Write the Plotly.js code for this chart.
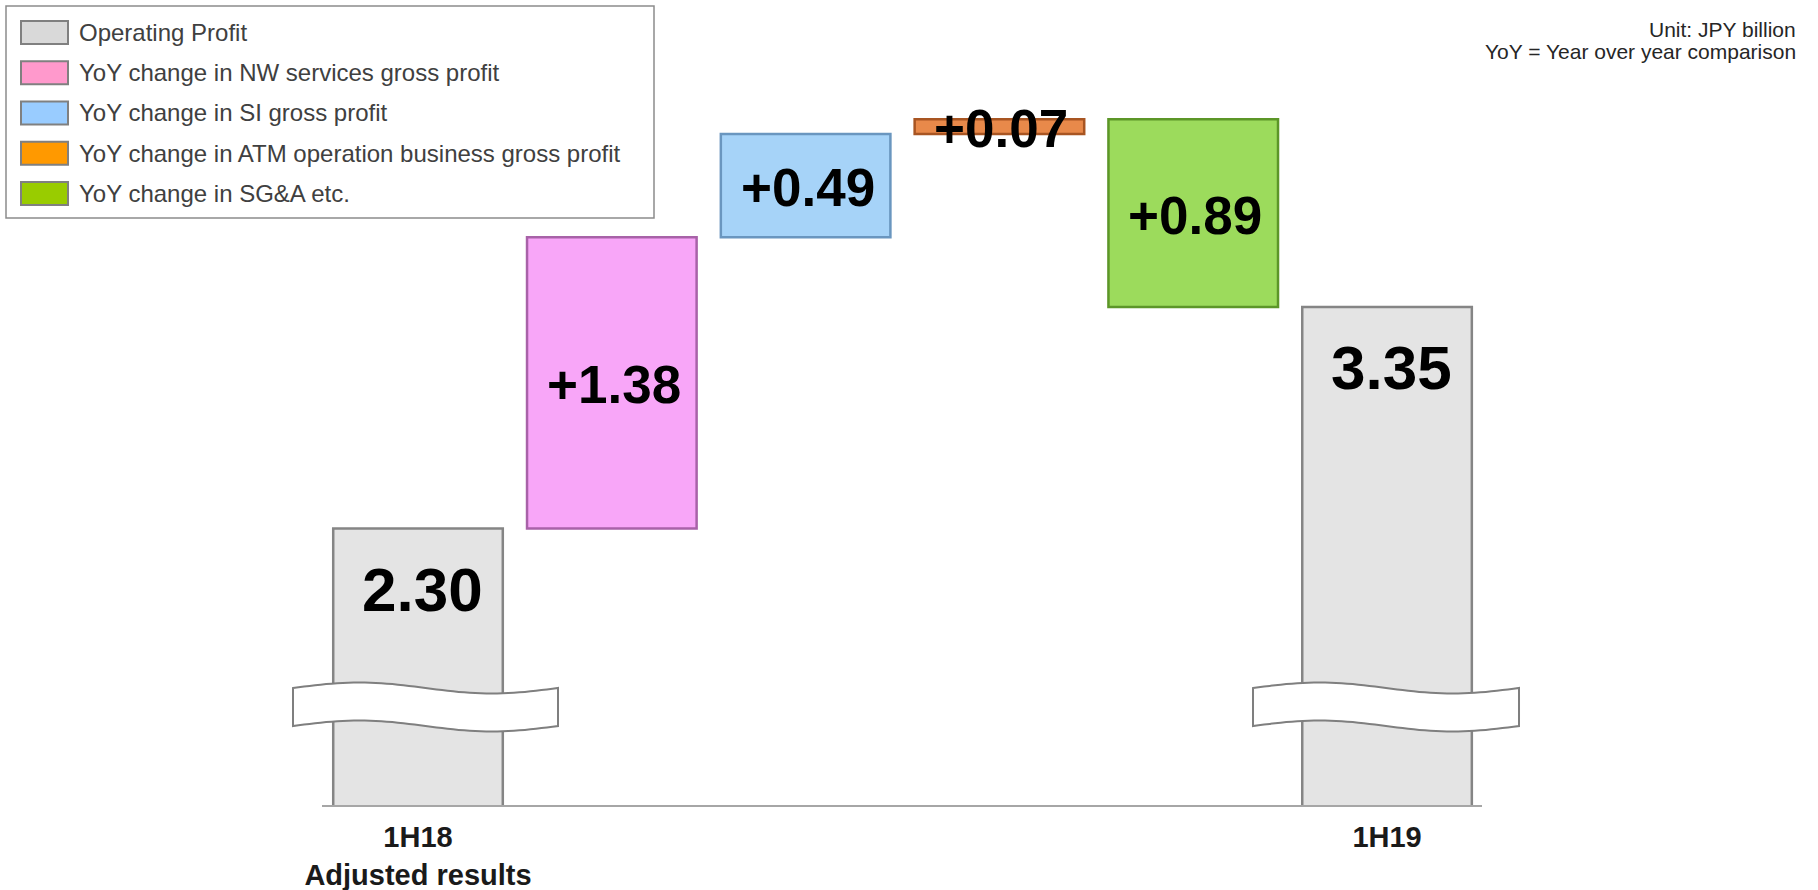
<!DOCTYPE html>
<html>
<head>
<meta charset="utf-8">
<script src="https://cdn.plot.ly/plotly-3.0.1.min.js"></script>
<style>
  html, body { margin: 0; padding: 0; background: #ffffff; }
  #chart { width: 1818px; height: 890px; }
</style>
</head>
<body>
<div id="chart"></div>
<script>
// ---------------- DATA ----------------
const categories = ['1H18', 'NW', 'SI', 'ATM', 'SGA', '1H19'];
const tickLabels = ['<b>1H18</b><br><b>Adjusted results</b>', '', '', '', '', '<b>1H19</b>'];
const startProfit = 2.30;                       // 1H18 adjusted operating profit
const changes = [1.38, 0.49, 0.07, -0.89];      // NW, SI, ATM, SG&A (SG&A increase lowers profit)
const endProfit = 3.35;                         // 1H19 operating profit
const valueLabels = ['2.30', '+1.38', '+0.49', '+0.07', '+0.89', '3.35'];
const legendNames = [
  'Operating Profit',
  'YoY change in NW services gross profit',
  'YoY change in SI gross profit',
  'YoY change in ATM operation business gross profit',
  'YoY change in SG&A etc.'
];
const legendColors = ['#d9d9d9', '#ff99cc', '#99ccff', '#ff9900', '#99cc00'];
const barColors = ['#e4e4e4', '#f8a6f8', '#a6d3f8', '#e8894a', '#9cdb5c', '#e4e4e4'];
const barEdges  = ['#858585', '#a862a8', '#6a96bf', '#a85522', '#5c9628', '#858585'];

// ---------------- GEOMETRY HELPERS ----------------
const W = 1818, H = 890;
const M = {l: 322, r: 336, t: 20, b: 85};
const PW = W - M.l - M.r, PH = H - M.t - M.b;
const px = v => (v - M.l) / PW;              // pixel x -> paper
const py = v => (H - M.b - v) / PH;          // pixel y -> paper

// waterfall bases / heights from the data
const xs = categories.map((c, i) => i);
const bases = [0], heights = [startProfit];
let run = startProfit;
changes.forEach(d => { bases.push(run); heights.push(d); run += d; });
bases.push(0); heights.push(endProfit);

const barTrace = {
  type: 'bar',
  x: xs,
  y: heights,
  base: bases,
  width: 0.875,
  marker: {color: barColors, line: {color: barEdges, width: 2.5}},
  hoverinfo: 'skip',
  showlegend: false
};

const FONT = 'Liberation Sans, Arial, sans-serif';

// value labels
const annotations = [];
xs.forEach((x, i) => {
  const total = (i === 0 || i === xs.length - 1);
  if (total) {
    annotations.push({
      x: x, y: heights[i], xref: 'x', yref: 'y',
      text: valueLabels[i], showarrow: false,
      xanchor: 'center', yanchor: 'middle', yshift: -61, xshift: 4,
      font: {family: FONT, size: 62, color: '#000', weight: 700}
    });
  } else {
    annotations.push({
      x: x, y: bases[i] + heights[i] / 2, xref: 'x', yref: 'y',
      text: valueLabels[i], showarrow: false,
      xanchor: 'center', yanchor: 'middle', yshift: -2, xshift: 2,
      font: {family: FONT, size: 53, color: '#000', weight: 700}
    });
  }
});

// notes top-right
annotations.push({
  xref: 'paper', yref: 'paper', x: px(1798), y: py(29), xanchor: 'right', yanchor: 'middle',
  text: 'Unit: JPY billion', showarrow: false,
  font: {family: FONT, size: 21, color: '#262626'}
});
annotations.push({
  xref: 'paper', yref: 'paper', x: px(1798), y: py(52), xanchor: 'right', yanchor: 'middle',
  text: 'YoY = Year over year comparison', showarrow: false,
  font: {family: FONT, size: 21, color: '#262626'}
});

// legend (drawn as shapes + text)
const shapes = [];
shapes.push({
  type: 'rect', xref: 'paper', yref: 'paper',
  x0: px(6), x1: px(654), y0: py(6), y1: py(218),
  line: {color: '#8c8c8c', width: 1.5}, fillcolor: '#ffffff', layer: 'above'
});
legendNames.forEach((name, i) => {
  const cy = 32.5 + i * 40.25;
  shapes.push({
    type: 'rect', xref: 'paper', yref: 'paper',
    x0: px(21), x1: px(68), y0: py(cy - 11.5), y1: py(cy + 11.5),
    line: {color: '#808080', width: 2}, fillcolor: legendColors[i], layer: 'above'
  });
  annotations.push({
    xref: 'paper', yref: 'paper', x: px(77), y: py(cy), xanchor: 'left', yanchor: 'middle',
    text: name, showarrow: false,
    font: {family: FONT, size: 24, color: '#404040'}
  });
});

// axis-break bands (wavy white strips)
function band(x0p, x1p, topY, h, amp) {
  const n = 48;
  let d = '';
  for (let k = 0; k <= n; k++) {
    const t = k / n;
    const X = px(x0p + (x1p - x0p) * t);
    const Y = py(topY - amp * Math.sin(2 * Math.PI * t));
    d += (k === 0 ? 'M' : 'L') + X.toFixed(5) + ',' + Y.toFixed(5);
  }
  for (let k = n; k >= 0; k--) {
    const t = k / n;
    const X = px(x0p + (x1p - x0p) * t);
    const Y = py(topY + h - amp * Math.sin(2 * Math.PI * t));
    d += 'L' + X.toFixed(5) + ',' + Y.toFixed(5);
  }
  return d + 'Z';
}
shapes.push({type: 'path', xref: 'paper', yref: 'paper', path: band(293, 558, 688, 38, 5.5),
  fillcolor: '#ffffff', line: {color: '#7f7f7f', width: 2}, layer: 'above'});
shapes.push({type: 'path', xref: 'paper', yref: 'paper', path: band(1253, 1519, 688, 38, 5.5),
  fillcolor: '#ffffff', line: {color: '#7f7f7f', width: 2}, layer: 'above'});

const layout = {
  width: W, height: H,
  margin: M,
  paper_bgcolor: '#ffffff',
  plot_bgcolor: '#ffffff',
  showlegend: false,
  xaxis: {
    range: [-0.4954, 5.490],
    tickmode: 'array', tickvals: xs, ticktext: tickLabels,
    showgrid: false, zeroline: false,
    showline: true, linecolor: '#a6a6a6', linewidth: 2,
    ticks: '', ticklabelstandoff: 5,
    tickfont: {family: FONT, size: 29, color: '#1a1a1a'},
    fixedrange: true
  },
  yaxis: {
    range: [0.9896, 4.71],
    visible: false, showgrid: false, zeroline: false,
    fixedrange: true
  },
  shapes: shapes,
  annotations: annotations
};

Plotly.newPlot('chart', [barTrace], layout, {displayModeBar: false, staticPlot: true});
</script>
</body>
</html>
